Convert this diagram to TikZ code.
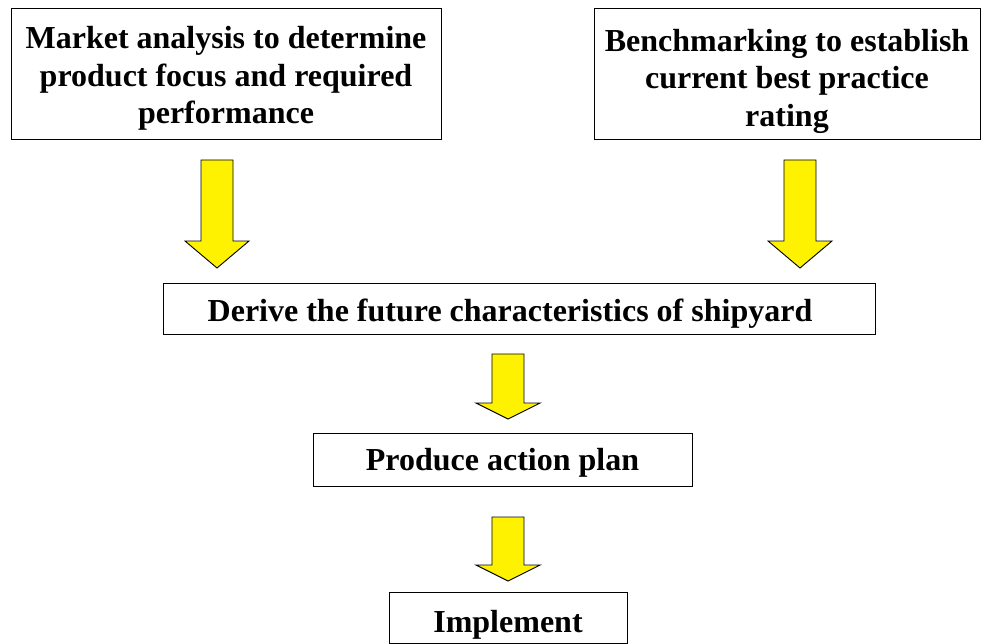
\documentclass[tikz,border=0pt]{standalone}
\usepackage{fontspec}
\setmainfont{Liberation Serif}
\usetikzlibrary{calc}
\tikzset{>=latex,
  box/.style={draw, line width=1pt, fill=white, align=center, inner sep=0pt,
    font=\bfseries\fontsize{32}{37.5}\selectfont},
  yarrow/.style={draw, line width=0.9pt, fill=yellow, line join=miter}
}
% invisible strut to push the first line down
\newcommand{\topstrut}[1]{\rule{0pt}{#1}}
% block arrow: x, top of shaft, base of head, tip
\newcommand{\blockarrow}[4]{%
  \draw[yarrow] (#1-16,#2) -- (#1+16,#2) -- (#1+16,#3) -- (#1+32,#3)
    -- (#1,#4) -- (#1-32,#3) -- (#1-16,#3) -- cycle;}

\begin{document}
\begin{tikzpicture}[x=1pt, y=-1pt]
\useasboundingbox (0,0) rectangle (981,644);
\node[box, minimum width=430, minimum height=131] (market) at (226,74.5)
  {\topstrut{30pt}Market analysis to determine\\product focus and required\\performance};
\node[box, minimum width=386, minimum height=131] (bench) at (787,74.5)
  {\topstrut{36pt}Benchmarking to establish\\current best practice\\rating};
\node[box, minimum width=712, minimum height=51] (derive) at (519,308.5)
  {\topstrut{32pt}Derive the future characteristics of shipyard\hspace*{18pt}};
\node[box, minimum width=379, minimum height=53] (produce) at (502.5,459.5)
  {\topstrut{28pt}Produce action plan};
\node[box, minimum width=238, minimum height=51] (implement) at (508,618)
  {\topstrut{36pt}Implement};
\blockarrow{217}{160}{241}{268}
\blockarrow{800}{160}{241}{268}
\blockarrow{508}{354}{403}{419}
\blockarrow{508}{517}{565}{581}
\end{tikzpicture}
\end{document}
